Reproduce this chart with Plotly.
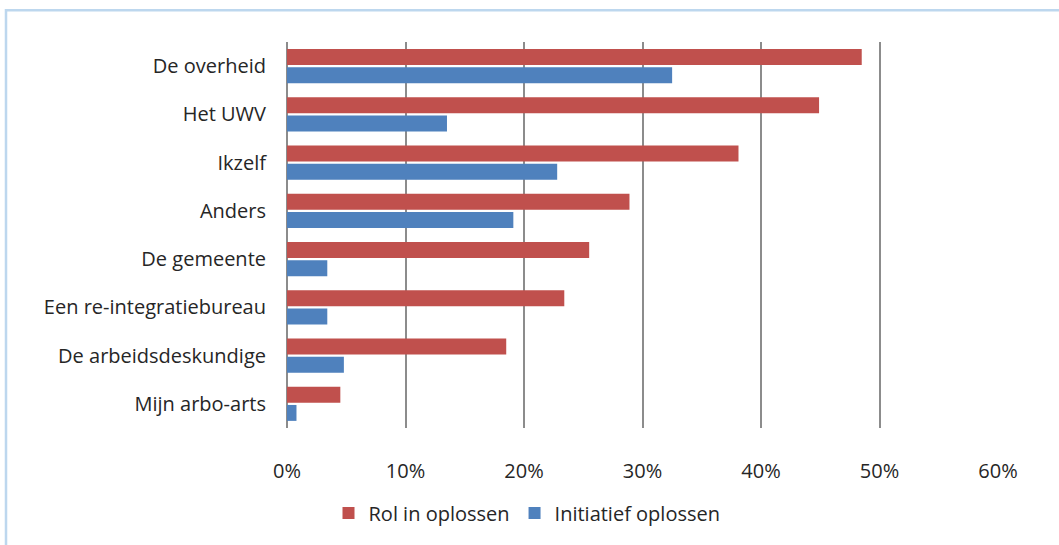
import plotly.graph_objects as go

# Survey categories (top to bottom) and shares per series
categories = [
    "De overheid",
    "Het UWV",
    "Ikzelf",
    "Anders",
    "De gemeente",
    "Een re-integratiebureau",
    "De arbeidsdeskundige",
    "Mijn arbo-arts",
]
rol_in_oplossen = [0.485, 0.449, 0.381, 0.289, 0.255, 0.234, 0.185, 0.045]
initiatief_oplossen = [0.325, 0.135, 0.228, 0.191, 0.034, 0.034, 0.048, 0.008]
x_ticks = [0, 0.1, 0.2, 0.3, 0.4, 0.5, 0.6]
x_tick_labels = ["0%", "10%", "20%", "30%", "40%", "50%", "60%"]

RED = "#c0504d"
BLUE = "#4f81bd"
GRID = "#8c8c8c"
FONT = dict(family="Open Sans", size=20, color="#262626")

W, H = 1059, 545
L, R, T, B = 287, 61, 42, 108
pw, ph = W - L - R, H - T - B


def px_x(x):
    return (x - L) / pw


def px_y(y):
    return (H - B - y) / ph


fig = go.Figure()
fig.add_trace(go.Bar(
    y=categories, x=rol_in_oplossen, orientation="h", name="Rol in oplossen",
    marker=dict(color=RED, line=dict(width=0)),
))
fig.add_trace(go.Bar(
    y=categories, x=initiatief_oplossen, orientation="h", name="Initiatief oplossen",
    marker=dict(color=BLUE, line=dict(width=0)),
))

fig.update_layout(
    width=W, height=H,
    margin=dict(l=L, r=R, t=T, b=B, pad=0),
    paper_bgcolor="white", plot_bgcolor="white",
    font=FONT,
    barmode="group", bargap=0.25, bargroupgap=0.12,
    showlegend=True,
    legend=dict(
        orientation="h", x=px_x(527), y=px_y(544), xanchor="center", yanchor="bottom",
        font=FONT, itemwidth=30, traceorder="normal",
    ),
    xaxis=dict(
        range=[0, 0.6], tickvals=x_ticks, ticktext=x_tick_labels,
        showgrid=True, gridcolor=GRID, gridwidth=2,
        zeroline=True, zerolinecolor=GRID, zerolinewidth=2,
        showline=False, ticks="", ticklabelstandoff=29, fixedrange=True,
    ),
    yaxis=dict(
        autorange="reversed", showgrid=False, zeroline=False, showline=False,
        ticks="", ticklabelstandoff=20, fixedrange=True,
    ),
    shapes=[
        dict(
            type="rect", xref="paper", yref="paper",
            x0=px_x(6), x1=px_x(W + 20), y0=px_y(H + 20), y1=px_y(9.5),
            line=dict(color="#bdd7ee", width=2.5), fillcolor="rgba(0,0,0,0)",
            layer="below",
        )
    ],
)

fig.write_html("out.html")
